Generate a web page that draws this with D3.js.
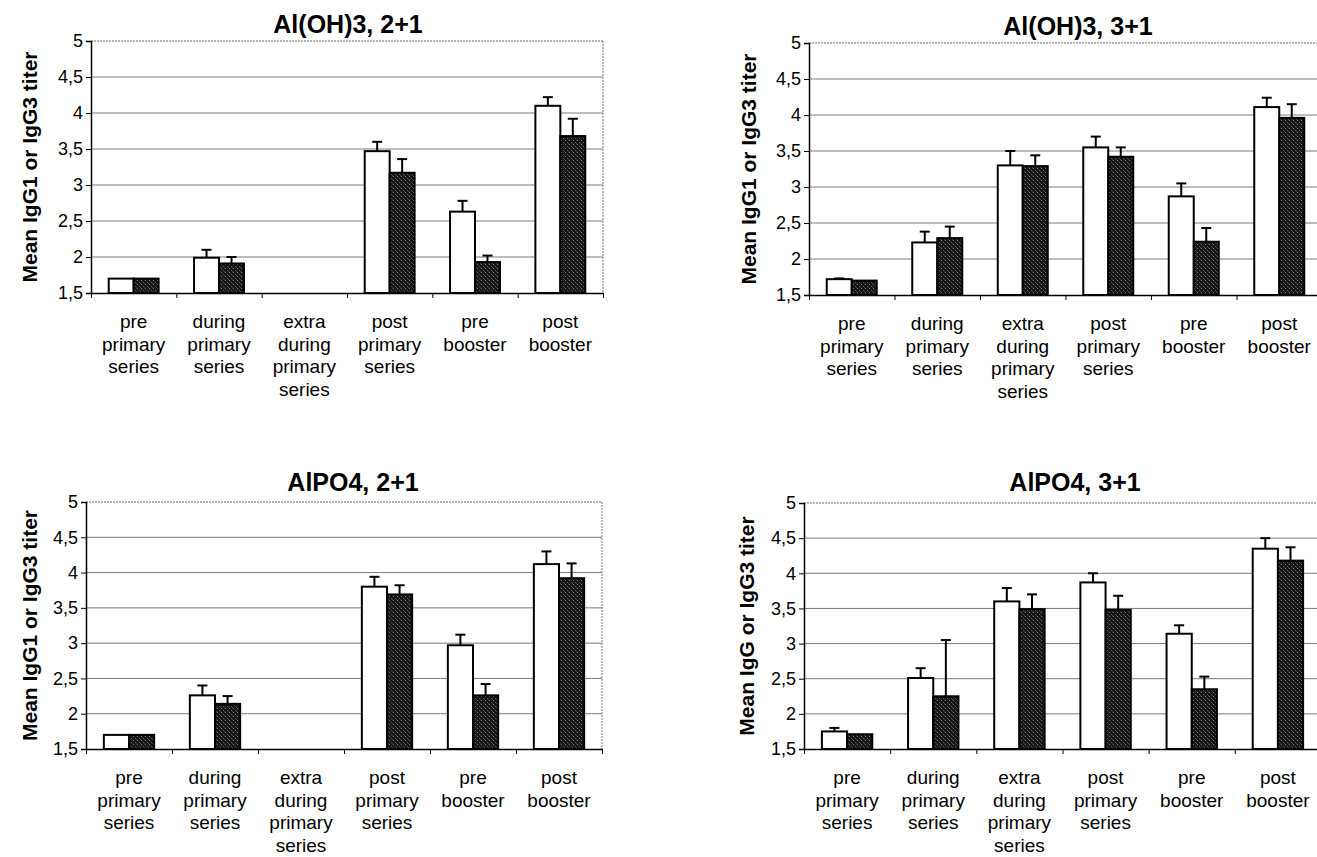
<!DOCTYPE html>
<html>
<head>
<meta charset="utf-8">
<script src="https://cdn.jsdelivr.net/npm/d3@7"></script>
<style>
  html, body { margin: 0; padding: 0; background: #fff; }
  svg { display: block; }
  text { font-family: "Liberation Sans", Arial, sans-serif; fill: #000; }
</style>
</head>
<body>
<svg id="chart" width="1317" height="857"></svg>
<script>
// ---------- data ----------
const categories = [
  ["pre", "primary", "series"],
  ["during", "primary", "series"],
  ["extra", "during", "primary", "series"],
  ["post", "primary", "series"],
  ["pre", "booster"],
  ["post", "booster"]
];
const panelTitles = ["Al(OH)3, 2+1", "Al(OH)3, 3+1", "AlPO4, 2+1", "AlPO4, 3+1"];
const yTitles = ["Mean IgG1 or IgG3 titer", "Mean IgG1 or IgG3 titer", "Mean IgG1 or IgG3 titer", "Mean IgG or IgG3 titer"];
const yTickValues = [1.5, 2, 2.5, 3, 3.5, 4, 4.5, 5];
const yTickLabels = ["1,5", "2", "2,5", "3", "3,5", "4", "4,5", "5"];

// IgG1 (open bars) and IgG3 (dark bars): means and upper error (SE)
const al2_igg1 = [1.70, 1.99, null, 3.47, 2.63, 4.10];
const al2_igg1_err = [0, 0.11, null, 0.13, 0.15, 0.12];
const al2_igg3 = [1.70, 1.91, null, 3.17, 1.93, 3.68];
const al2_igg3_err = [0, 0.09, null, 0.19, 0.09, 0.24];

const al3_igg1 = [1.72, 2.23, 3.30, 3.55, 2.87, 4.11];
const al3_igg1_err = [0.01, 0.15, 0.20, 0.15, 0.18, 0.13];
const al3_igg3 = [1.70, 2.29, 3.29, 3.42, 2.24, 3.96];
const al3_igg3_err = [0, 0.16, 0.15, 0.13, 0.19, 0.19];

const po2_igg1 = [1.70, 2.26, null, 3.80, 2.97, 4.12];
const po2_igg1_err = [0, 0.14, null, 0.14, 0.15, 0.18];
const po2_igg3 = [1.70, 2.14, null, 3.69, 2.26, 3.92];
const po2_igg3_err = [0, 0.11, null, 0.13, 0.16, 0.21];

const po3_igg1 = [1.75, 2.51, 3.60, 3.87, 3.14, 4.35];
const po3_igg1_err = [0.05, 0.14, 0.19, 0.13, 0.12, 0.15];
const po3_igg3 = [1.71, 2.25, 3.49, 3.48, 2.35, 4.18];
const po3_igg3_err = [0, 0.80, 0.21, 0.20, 0.18, 0.19];

// ---------- layout ----------
const layouts = [
  { left: 91,  right: 603,  top: 41,  bottom: 293, titleX: 348,  titleY: 33,  yTitleX: 37 },
  { left: 809, right: 1322, top: 43,  bottom: 295, titleX: 1078, titleY: 35,  yTitleX: 756 },
  { left: 86,  right: 602,  top: 502, bottom: 749, titleX: 353,  titleY: 491, yTitleX: 37 },
  { left: 804, right: 1321, top: 503, bottom: 749, titleX: 1075, titleY: 491, yTitleX: 754 }
];
const panelSeries = [
  [[al2_igg1, al2_igg1_err], [al2_igg3, al2_igg3_err]],
  [[al3_igg1, al3_igg1_err], [al3_igg3, al3_igg3_err]],
  [[po2_igg1, po2_igg1_err], [po2_igg3, po2_igg3_err]],
  [[po3_igg1, po3_igg1_err], [po3_igg3, po3_igg3_err]]
];

const svg = d3.select("#chart");

// stipple pattern for the dark bars
const defs = svg.append("defs");
const pat = defs.append("pattern").attr("id", "stipple")
  .attr("width", 4).attr("height", 4).attr("patternUnits", "userSpaceOnUse");
pat.append("rect").attr("width", 4).attr("height", 4).attr("fill", "#161616");
pat.append("rect").attr("x", 1).attr("y", 0).attr("width", 1).attr("height", 1).attr("fill", "#7a7a7a");
pat.append("rect").attr("x", 3).attr("y", 2).attr("width", 1).attr("height", 1).attr("fill", "#5a5a5a");
pat.append("rect").attr("x", 0).attr("y", 3).attr("width", 1).attr("height", 1).attr("fill", "#444");

const seriesFill = ["#ffffff", "url(#stipple)"];

layouts.forEach((L, p) => {
  const g = svg.append("g");
  const idx = d3.range(categories.length);

  const x0 = d3.scaleBand().domain(idx).range([L.left, L.right]).paddingInner(0).paddingOuter(0);
  const x1 = d3.scaleBand().domain([0, 1]).range([0, x0.bandwidth()]).paddingInner(0).paddingOuter(0.71);
  const y = d3.scaleLinear().domain([1.5, 5]).range([L.bottom, L.top]);
  const xb = d3.scaleLinear().domain([0, categories.length]).range([L.left, L.right]);

  // gridlines
  g.append("g").selectAll("line").data(yTickValues.filter(v => v > 1.5 && v < 5)).join("line")
    .attr("x1", L.left).attr("x2", L.right)
    .attr("y1", d => y(d)).attr("y2", d => y(d))
    .attr("stroke", "#7a7a7a").attr("stroke-width", 1);

  // top and right frame (dotted)
  g.append("line").attr("x1", L.left).attr("x2", L.right).attr("y1", y(5)).attr("y2", y(5))
    .attr("stroke", "#666").attr("stroke-width", 1).attr("stroke-dasharray", "2,1");
  g.append("line").attr("x1", L.right).attr("x2", L.right).attr("y1", y(5)).attr("y2", y(1.5))
    .attr("stroke", "#777").attr("stroke-width", 1).attr("stroke-dasharray", "2,1");

  // bars
  panelSeries[p].forEach((s, si) => {
    const [vals, errs] = s;
    const recs = idx.filter(i => vals[i] !== null).map(i => ({ i, v: vals[i], e: errs[i] }));
    g.append("g").selectAll("rect").data(recs).join("rect")
      .attr("x", d => x0(d.i) + x1(si))
      .attr("width", x1.bandwidth())
      .attr("y", d => y(d.v))
      .attr("height", d => y(1.5) - y(d.v))
      .attr("fill", seriesFill[si])
      .attr("stroke", "#000").attr("stroke-width", 2);
    const eb = g.append("g").selectAll("g").data(recs.filter(d => d.e > 0)).join("g");
    eb.append("line")
      .attr("x1", d => x0(d.i) + x1(si) + x1.bandwidth() / 2)
      .attr("x2", d => x0(d.i) + x1(si) + x1.bandwidth() / 2)
      .attr("y1", d => y(d.v)).attr("y2", d => y(d.v + d.e))
      .attr("stroke", "#000").attr("stroke-width", 2);
    eb.append("line")
      .attr("x1", d => x0(d.i) + x1(si) + x1.bandwidth() / 2 - 5)
      .attr("x2", d => x0(d.i) + x1(si) + x1.bandwidth() / 2 + 5)
      .attr("y1", d => y(d.v + d.e)).attr("y2", d => y(d.v + d.e))
      .attr("stroke", "#000").attr("stroke-width", 2);
  });

  // y axis
  const yAxis = d3.axisLeft(y).tickValues(yTickValues)
    .tickFormat((d, i) => yTickLabels[i]).tickSize(5).tickPadding(3);
  const ya = g.append("g").attr("transform", `translate(${L.left},0)`).call(yAxis);
  ya.select(".domain").attr("stroke", "#000").attr("stroke-width", 1.5);
  ya.selectAll(".tick line").attr("stroke", "#000");
  ya.selectAll(".tick text").attr("font-size", 18).attr("font-family", "Liberation Sans, Arial, sans-serif");

  // x axis (boundary ticks)
  const xAxis = d3.axisBottom(xb).tickValues(d3.range(categories.length + 1)).tickFormat("").tickSize(5).tickSizeOuter(0);
  const xa = g.append("g").attr("transform", `translate(0,${L.bottom})`).call(xAxis);
  xa.select(".domain").attr("stroke", "#000").attr("stroke-width", 1.5);
  xa.selectAll(".tick line").attr("stroke", "#000");

  // category labels
  const lab = g.append("g").selectAll("text").data(idx).join("text")
    .attr("x", i => x0(i) + x0.bandwidth() / 2)
    .attr("y", L.bottom + 35)
    .attr("text-anchor", "middle")
    .attr("font-size", 19);
  lab.selectAll("tspan").data(i => categories[i]).join("tspan")
    .attr("x", function () { return d3.select(this.parentNode).attr("x"); })
    .attr("dy", (d, k) => k === 0 ? 0 : 22.5)
    .text(d => d);

  // panel title
  g.append("text").attr("x", L.titleX).attr("y", L.titleY)
    .attr("text-anchor", "middle").attr("font-size", 25).attr("font-weight", "bold")
    .text(panelTitles[p]);

  // y title
  g.append("text")
    .attr("transform", `translate(${L.yTitleX},${(L.top + L.bottom) / 2}) rotate(-90)`)
    .attr("text-anchor", "middle").attr("font-size", 21).attr("font-weight", "bold")
    .text(yTitles[p]);
});
</script>
</body>
</html>
